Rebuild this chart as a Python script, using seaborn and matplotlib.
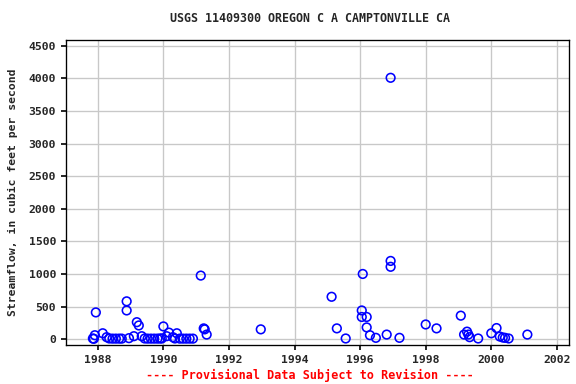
import matplotlib
matplotlib.use("Agg")
import matplotlib.pyplot as plt
import seaborn as sns
import pandas as pd

years = [1987.88, 1987.94, 1987.91, 1987.85, 1988.15, 1988.27, 1988.35, 1988.45, 1988.55, 1988.65, 1988.73,
         1988.88, 1988.88, 1988.95, 1989.10, 1989.19, 1989.25, 1989.34, 1989.43, 1989.52, 1989.62, 1989.72,
         1989.82, 1989.90, 1990.00, 1989.95, 1990.10, 1990.17, 1990.29, 1990.41, 1990.35, 1990.50, 1990.60,
         1990.70, 1990.80, 1990.90, 1991.14, 1991.23, 1991.26, 1991.32,
         1992.97,
         1995.13, 1995.29, 1995.56, 1996.08, 1996.05, 1996.05, 1996.20, 1996.20, 1996.30, 1996.48, 1996.81,
         1996.93, 1996.93, 1996.93, 1997.20, 1998.00, 1998.33,
         1999.07, 1999.17, 1999.26, 1999.30, 1999.34, 1999.60, 2000.00, 2000.16, 2000.26, 2000.35, 2000.42,
         2000.53, 2001.10]
flows = [5, 410, 60, 10, 90, 30, 10, 8, 8, 8, 8,
         580, 440, 15, 45, 260, 210, 45, 10, 8, 8, 8,
         8, 10, 195, 10, 45, 100, 30, 90, 10, 8, 8,
         8, 8, 8, 975, 165, 150, 70,
         150,
         650, 165, 10, 1000, 440, 340, 340, 180, 60, 20, 70,
         1110, 1200, 4010, 20, 225, 165,
         360, 70, 115, 70, 30, 10, 90, 170, 40, 25, 20,
         10, 70]

df = pd.DataFrame({"year": years, "flow": flows})

sns.set_theme(style="white")
plt.rcParams['font.family'] = ['DejaVu Sans Mono', 'DejaVu Sans']
plt.rcParams['font.weight'] = 'bold'

fig = plt.figure(figsize=(6, 4), dpi=96)
ax = fig.add_axes([66/576, 39/384, 503/576, 305/384])

sns.scatterplot(data=df, x="year", y="flow", ax=ax, marker="o", s=42,
                facecolors="none", edgecolor="blue", linewidth=1.2, legend=False)

ax.set_xlim(1987.03, 2002.37)
ax.set_ylim(-90, 4590)
ax.set_xticks(range(1988, 2003, 2))
ax.set_yticks(range(0, 4501, 500))
ax.grid(True, color="#c8c8c8", linewidth=1)
ax.set_axisbelow(True)
for s in ax.spines.values():
    s.set_color("black")
    s.set_linewidth(1)
ax.tick_params(axis="both", labelsize=8.5, length=4, color="black", direction="out",
               left=True, bottom=True)
for lab in ax.get_xticklabels() + ax.get_yticklabels():
    lab.set_fontweight("bold")
ax.set_xlabel("")
ax.set_ylabel("Streamflow, in cubic feet per second", fontsize=8.5, fontweight="bold")
ax.yaxis.set_label_coords(-0.095, 0.5)

fig.text(310/576, 1 - 19/384, "USGS 11409300 OREGON C A CAMPTONVILLE CA",
         ha="center", va="center", fontsize=8.7, fontweight="bold")
fig.text(310/576, 1 - 375/384, "---- Provisional Data Subject to Revision ----",
         ha="center", va="center", fontsize=8.8, fontweight="bold", color="red")

fig.savefig("out.png", dpi=96)
